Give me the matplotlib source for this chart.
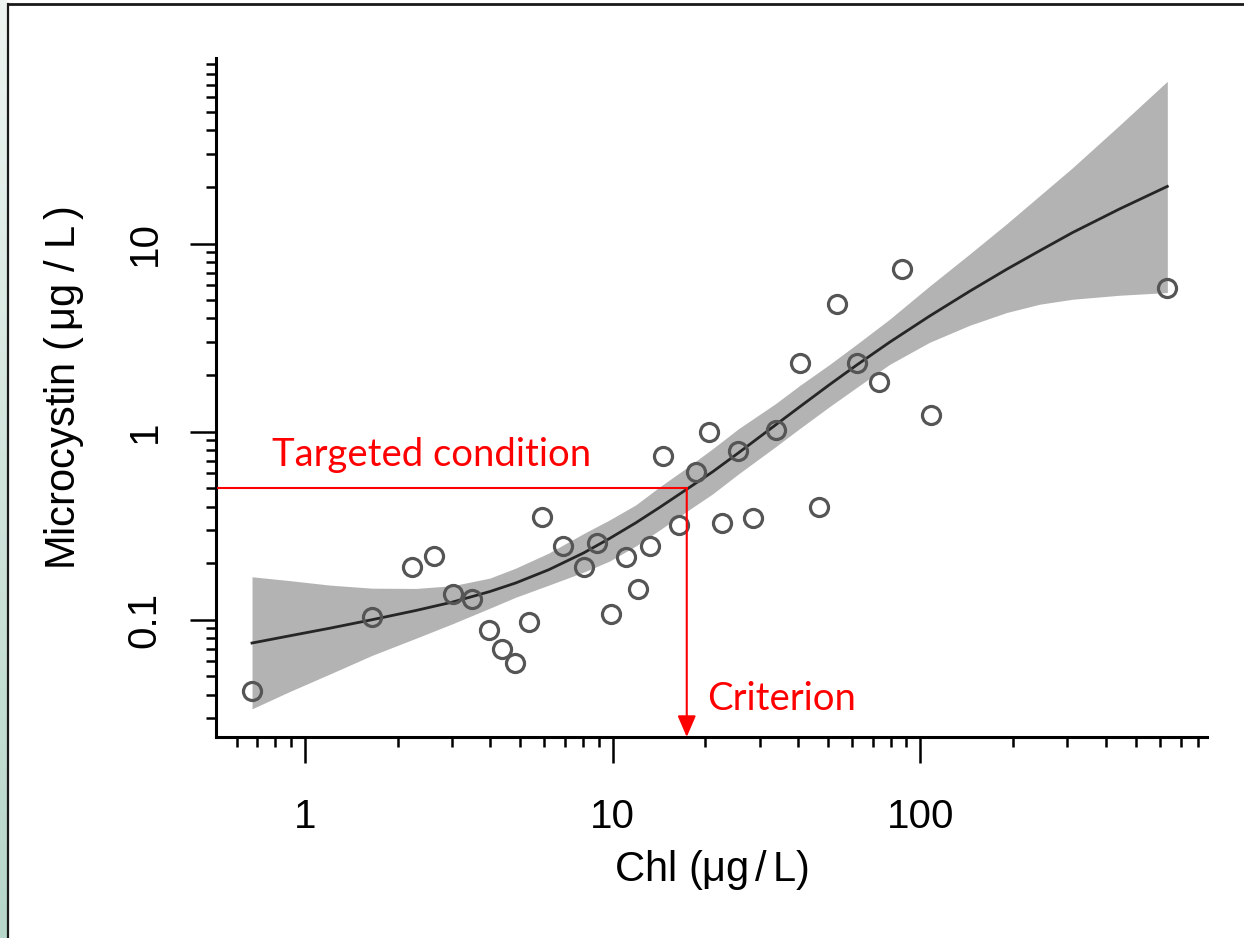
import numpy as np
import matplotlib
matplotlib.use('Agg')
import matplotlib.pyplot as plt
from matplotlib.lines import Line2D
from matplotlib.colors import LinearSegmentedColormap
from matplotlib.ticker import LogLocator, NullFormatter, FuncFormatter

plt.rcParams['font.family'] = ['Liberation Sans', 'DejaVu Sans']
plt.rcParams['mathtext.fontset'] = 'custom'
plt.rcParams['mathtext.rm'] = 'Liberation Sans'
plt.rcParams['mathtext.it'] = 'Liberation Sans:italic'

chl = [0.673, 1.650, 2.221, 2.630, 3.024, 3.485, 3.949, 4.372, 4.831, 5.364,
       5.913, 6.898, 8.069, 8.918, 9.874, 11.08, 12.10, 13.26, 14.53, 16.42,
       18.64, 20.54, 22.63, 25.59, 28.54, 33.82, 40.68, 46.66, 53.63, 62.11,
       73.2, 86.77, 108.3, 633.9]
mc = [0.0417, 0.1035, 0.1912, 0.2189, 0.1368, 0.1297, 0.0879, 0.0702, 0.0586, 0.0973,
      0.3508, 0.2474, 0.1912, 0.2567, 0.1079, 0.2163, 0.1449, 0.2474, 0.7447, 0.3179,
      0.612, 0.996, 0.326, 0.792, 0.349, 1.016, 2.325, 0.3997, 4.799, 2.313,
      1.847, 7.31, 1.232, 5.81]

# --- fitted curve and its interval
fit_x = [0.673, 0.894, 1.206, 1.650, 2.293, 3.024, 3.987, 4.842, 6.198, 8.052,
         9.764, 11.88, 14.21, 17.48, 21.12, 25.65, 33.82, 40.48, 50.65, 61.98,
         79.31, 106.9, 144.3, 190.2, 243.4, 311.5, 442.7, 633.9]
fit_y = [0.0752, 0.0822, 0.0902, 0.1000, 0.1120, 0.1243, 0.1412, 0.1569, 0.1845, 0.2268,
         0.2704, 0.3275, 0.3958, 0.4966, 0.6119, 0.7727, 1.086, 1.354, 1.779, 2.257,
         2.987, 4.111, 5.573, 7.286, 9.142, 11.43, 15.26, 20.14]
fit_lo = [0.0336, 0.0416, 0.0515, 0.0646, 0.0797, 0.0954, 0.1152, 0.1318, 0.1528, 0.1792,
          0.2051, 0.2466, 0.3001, 0.3791, 0.4671, 0.5970, 0.8318, 1.038, 1.359, 1.717,
          2.277, 2.984, 3.675, 4.297, 4.757, 5.058, 5.312, 5.491]
fit_hi = [0.1692, 0.1614, 0.1528, 0.1472, 0.1467, 0.1518, 0.1665, 0.1882, 0.2263, 0.2875,
          0.3394, 0.4080, 0.5089, 0.6465, 0.8116, 1.038, 1.410, 1.759, 2.277, 2.911,
          3.957, 5.935, 8.790, 12.71, 17.92, 25.27, 42.49, 72.94]

target = 0.5
criterion = 17.4

W, H = 1244, 938
fig = plt.figure(figsize=(W / 100, H / 100), dpi=100)

# slide edge: pale green strip + frame lines
strip = fig.add_axes([0, 0, 7 / W, 1])
strip.imshow(np.linspace(0, 1, 256).reshape(-1, 1), aspect='auto',
             cmap=LinearSegmentedColormap.from_list('s', ['#eef4f1', '#b6d6c9']))
strip.axis('off')
fig.add_artist(Line2D([8 / W, 8 / W], [0, 1 - 4.5 / H], color='#1a1a1a', lw=1.6))
fig.add_artist(Line2D([8 / W, 1], [1 - 4.5 / H] * 2, color='#1a1a1a', lw=2))

ax = fig.add_axes([216 / W, 1 - 737 / H, 991 / W, 679 / H])
ax.set_xscale('log')
ax.set_yscale('log')
xmin, xmax = 0.514, 853
ymin, ymax = 0.0238, 97
ax.set_xlim(xmin, xmax)
ax.set_ylim(ymin, ymax)

ax.fill_between(fit_x, fit_lo, fit_hi, color='#b3b3b3', lw=0, zorder=1)
ax.plot(fit_x, fit_y, color='#262626', lw=2.0, zorder=2)
ax.plot(chl, mc, 'o', mfc='none', mec='#555555', mew=2.3, ms=13, zorder=3)

# target / criterion
ax.plot([0.52, criterion], [target, target], color='red', lw=1.5, zorder=4)
ax.annotate('', xy=(criterion, ymin), xytext=(criterion, target),
            arrowprops=dict(arrowstyle='-|>,head_length=0.65,head_width=0.28',
                            color='red', lw=1.5, shrinkA=0, shrinkB=0,
                            mutation_scale=20), zorder=4)
ax.text(0.781, 0.754, 'Targeted condition', color='red', fontsize=27.5,
        family=['Lato', 'DejaVu Sans'], va='center', ha='left')
ax.text(20.34, 0.0381, 'Criterion', color='red', fontsize=27.5,
        family=['Lato', 'DejaVu Sans'], va='center', ha='left')

# axes in base-R look
for s in ['top', 'right']:
    ax.spines[s].set_visible(False)
for s in ['left', 'bottom']:
    ax.spines[s].set_linewidth(2.2)

fmt = FuncFormatter(lambda v, p: f'{v:g}')
for axis in (ax.xaxis, ax.yaxis):
    axis.set_major_locator(LogLocator(base=10))
    axis.set_minor_locator(LogLocator(base=10, subs=np.arange(2, 10)))
    axis.set_minor_formatter(NullFormatter())
    axis.set_major_formatter(fmt)

ax.tick_params(which='major', length=18.7, width=1.8, labelsize=29, pad=25)
ax.tick_params(which='minor', length=7.2, width=1.8)
ax.tick_params(axis='y', labelrotation=90, pad=19)
for lab in ax.get_yticklabels():
    lab.set_va('center')

ax.set_xlabel('Chl ' + r'$\left(\mathrm{\mu g\,/\,L}\right)$', fontsize=30)
ax.xaxis.label.set_va('center')
ax.xaxis.set_label_coords(0.5, -0.196)
ax.set_ylabel('Microcystin ' + r'$\left(\,\mathrm{\mu g\ /\ L}\,\right)$', fontsize=30)
ax.yaxis.label.set_va('center')
ax.yaxis.set_label_coords(-0.1534, 0.513)

fig.savefig('out.png', dpi=100)
